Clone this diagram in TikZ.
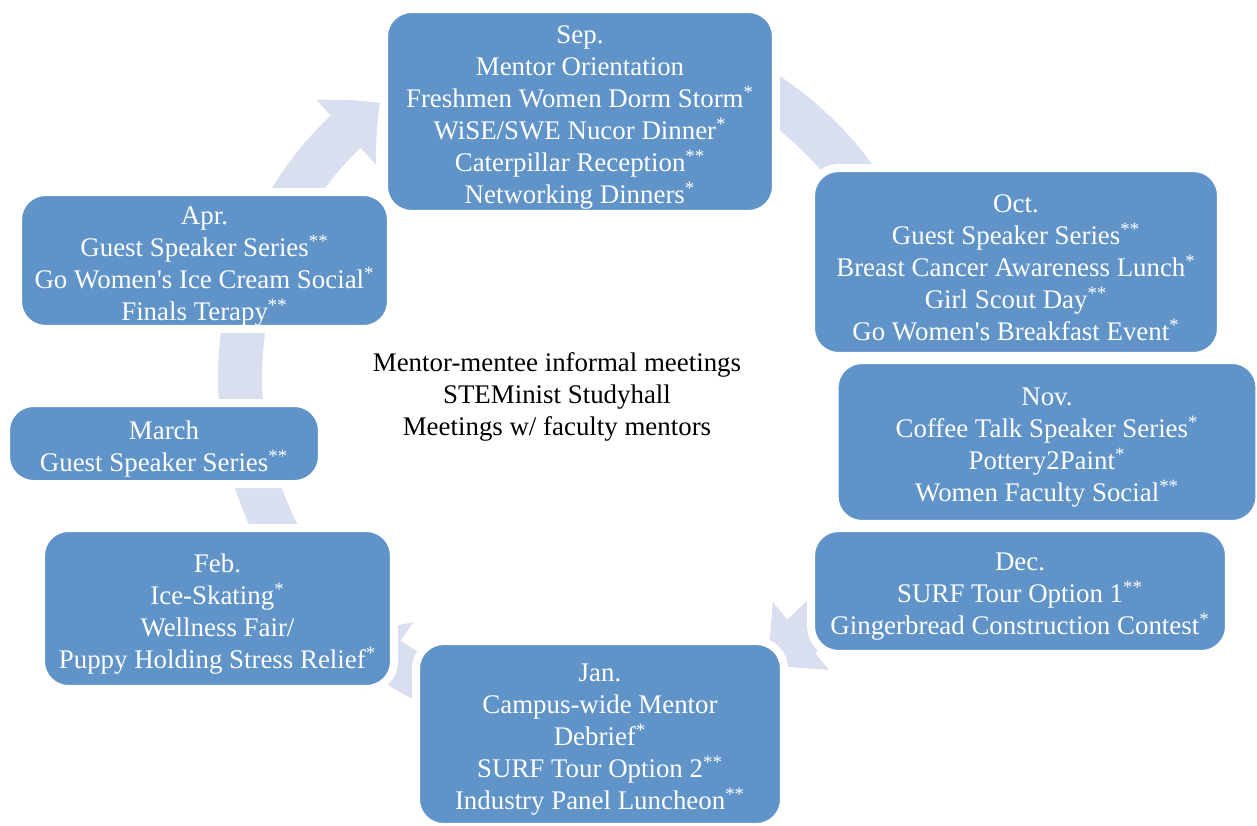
\documentclass[tikz,border=0pt]{standalone}
\usepackage{fontspec}
\setmainfont{Liberation Serif}
\usetikzlibrary{arrows.meta,bending}
\definecolor{boxblue}{RGB}{96,148,201}
\definecolor{ringblue}{RGB}{217,223,238}
\newcommand{\onestar}{\textsuperscript{*}}
\newcommand{\twostar}{\textsuperscript{**}}

\begin{document}
\begin{tikzpicture}[x=0.02cm, y=-0.02cm,
  month/.style={draw=white, fill=boxblue, line width=0.16cm, rounded corners=0.55cm,
    inner sep=0pt},
  monthtext/.style={text=white, align=center, inner sep=0pt, yshift=-0.12cm},
  ring/.style={draw=ringblue, line width=0.88cm,
    -{Triangle[width=1.7cm, length=0.9cm, bend]}},
  plain/.style={align=center, text=black},
  every node/.style={font=\fontsize{15.3}{18.2}\selectfont}
 ]
\useasboundingbox (0,0) rectangle (1257,825);
\coordinate (hub) at (580,378);

% cycle arrows behind the boxes
\draw[ring] ([shift={(300:340)}]hub) arc[start angle=300, end angle=338, radius=340];
\draw[ring] ([shift={(345:340)}]hub) arc[start angle=345, end angle=370, radius=340];
\draw[ring] ([shift={(15:340)}]hub) arc[start angle=15, end angle=38, radius=340];
\draw[ring] ([shift={(30:340)}]hub) arc[start angle=30, end angle=57, radius=340];
\draw[ring] ([shift={(100:340)}]hub) arc[start angle=100, end angle=132, radius=340];
\draw[ring] ([shift={(145:340)}]hub) arc[start angle=145, end angle=172, radius=340];
\draw[ring] ([shift={(176:340)}]hub) arc[start angle=176, end angle=200, radius=340];
\draw[ring] ([shift={(200:340)}]hub) arc[start angle=200, end angle=234, radius=340];

\node[month, minimum width=7.84cm, minimum height=4.10cm,
  label={[monthtext]center:{Sep.\\Mentor Orientation\\Freshmen Women Dorm Storm\onestar\\
   WiSE/SWE Nucor Dinner\onestar\\Caterpillar Reception\twostar\\Networking Dinners\onestar}}]
  (sep) at (580,111.5) {};
\node[month, minimum width=8.20cm, minimum height=3.76cm,
  label={[monthtext]center:{Oct.\\Guest Speaker Series\twostar\\Breast Cancer Awareness Lunch\onestar\\
   Girl Scout Day\twostar\\Go Women\textquotesingle s Breakfast Event\onestar}}]
  (oct) at (1016,262) {};
\node[month, minimum width=8.50cm, minimum height=3.28cm,
  label={[monthtext]center:{Nov.\\Coffee Talk Speaker Series\onestar\\Pottery2Paint\onestar\\
   Women Faculty Social\twostar}}]
  (nov) at (1047,442) {};
\node[month, minimum width=8.36cm, minimum height=2.52cm,
  label={[monthtext]center:{Dec.\\SURF Tour Option 1\twostar\\Gingerbread Construction Contest\onestar}}]
  (dec) at (1020,591) {};
\node[month, minimum width=7.36cm, minimum height=3.72cm,
  label={[monthtext]center:{Jan.\\Campus-wide Mentor\\Debrief\onestar\\SURF Tour Option 2\twostar\\
   Industry Panel Luncheon\twostar}}]
  (jan) at (600,734) {};
\node[month, minimum width=7.06cm, minimum height=3.22cm,
  label={[monthtext]center:{Feb.\\Ice-Skating\onestar\\Wellness Fair/\\Puppy Holding Stress Relief\onestar}}]
  (feb) at (217.5,608.5) {};
\node[month, minimum width=6.32cm, minimum height=1.62cm,
  label={[monthtext]center:{March\\Guest Speaker Series\twostar}}]
  (march) at (164,443.5) {};
\node[month, minimum width=7.46cm, minimum height=2.74cm,
  label={[monthtext]center:{Apr.\\Guest Speaker Series\twostar\\Go Women\textquotesingle s Ice Cream Social\onestar\\
   Finals Terapy\twostar}}]
  (apr) at (204.5,260.5) {};

\node[plain] (ongoing) at (557,397)
  {Mentor-mentee informal meetings\\STEMinist Studyhall\\Meetings w/ faculty mentors};
\end{tikzpicture}
\end{document}
